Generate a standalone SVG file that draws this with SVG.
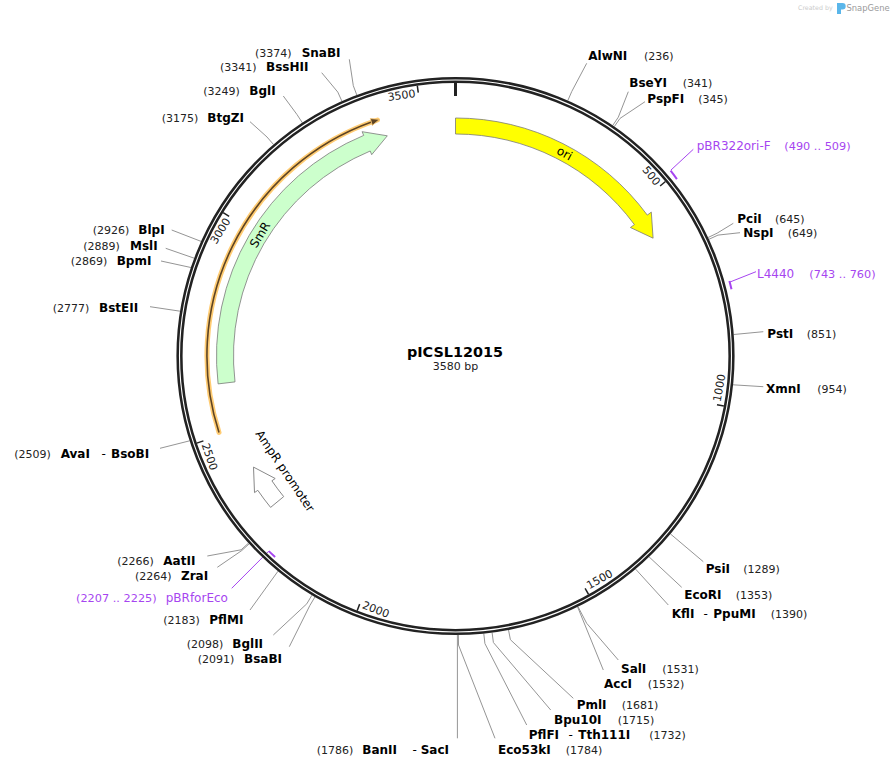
<svg xmlns="http://www.w3.org/2000/svg" width="895" height="768" viewBox="0 0 895 768">
<style>
.en{font-family:"DejaVu Sans",Verdana,sans-serif;font-weight:bold;font-size:12px;fill:#000}
.dash{font-family:"DejaVu Sans",Verdana,sans-serif;font-size:12px;fill:#000}
.pos{font-family:"DejaVu Sans",Verdana,sans-serif;font-size:11px;fill:#222}
.lead{fill:none;stroke:#959595;stroke-width:1}
.plead{fill:none;stroke:#a645f0;stroke-width:1}
.pr{font-family:"DejaVu Sans",Verdana,sans-serif;font-size:12px;fill:#a645f0}
.prpos{font-family:"DejaVu Sans",Verdana,sans-serif;font-size:11.3px;fill:#a645f0}
.tick{font-family:"DejaVu Sans",Verdana,sans-serif;font-size:11px;fill:#222}
.flab{font-family:"DejaVu Sans",Verdana,sans-serif;font-size:12px;fill:#000}
.feat{stroke:#7a7a7a;stroke-width:0.8}
</style>
<rect width="895" height="768" fill="#fff"/>

<g id="watermark">
<text x="798" y="10" font-family="DejaVu Sans, sans-serif" font-size="6.3" fill="#cccccc">Created by</text>
<path d="M837,3 h5.5 a3.2,3.2 0 0 1 0,6.4 h-1.5 v4.6 h-4 z" fill="#5ab6ea"/>
<text x="846.5" y="10.5" font-family="DejaVu Sans, sans-serif" font-size="8.4" fill="#9a9a9a">SnapGene</text>
</g>

<g id="connectors">
<polyline class="lead" points="567.8,100.6 571.8,91.4 586.7,63.3"/>
<polyline class="lead" points="612.7,125.5 618.3,117.2 628.3,91.7"/>
<polyline class="lead" points="614.3,126.6 620,118.4 645,101.7"/>
<polyline class="lead" points="708.1,237.5 717.1,233.2 733.3,223.3"/>
<polyline class="lead" points="708.9,239.3 718,235.1 740,232.7"/>
<polyline class="lead" points="733.7,334.5 763.3,331.7"/>
<polyline class="lead" points="733,384.8 763.3,386.7"/>
<polyline class="lead" points="670.4,533.9 703.3,561.7"/>
<polyline class="lead" points="649.1,556.9 681.7,587.3"/>
<polyline class="lead" points="635.6,569.1 668.3,605"/>
<polyline class="lead" points="578,606.7 586.7,623.3 618.3,660"/>
<polyline class="lead" points="577.6,606.9 603.3,670"/>
<polyline class="lead" points="508.5,629.9 510.4,639.7 573.3,698.3"/>
<polyline class="lead" points="492.1,632.6 493.4,642.5 550.7,710"/>
<polyline class="lead" points="483.8,633.6 484.9,643.5 526.7,725"/>
<polyline class="lead" points="458.4,635 458.5,645 495,738.3"/>
<polyline class="lead" points="457.4,635 457.4,738.3"/>
<polyline class="lead" points="356.8,95 353.3,85.7 349.3,59.3"/>
<polyline class="lead" points="341.9,101.2 337.8,92.1 321.7,72.7"/>
<polyline class="lead" points="302.4,122.8 296.9,114.4 283.3,96"/>
<polyline class="lead" points="273.5,144.5 267,137 250,121.7"/>
<polyline class="lead" points="201.1,241.4 171.7,230"/>
<polyline class="lead" points="194.2,258.2 165.7,248.3"/>
<polyline class="lead" points="190.9,267.5 161,261"/>
<polyline class="lead" points="180.1,311.2 150,306.7"/>
<polyline class="lead" points="189.7,440.8 160,448.3"/>
<polyline class="lead" points="248.5,543.1 241.1,549.8 207.3,556"/>
<polyline class="lead" points="249.2,543.8 241.8,550.5 217.3,567.3"/>
<polyline class="lead" points="278,571.2 250,610"/>
<polyline class="lead" points="311.9,595.2 306.8,603.8 273.3,635"/>
<polyline class="lead" points="314.9,597 309.8,605.6 289.3,646.7"/>
<polyline class="plead" points="671,170 693.3,149.3"/>
<polyline class="plead" points="730,282 756,271.7"/>
<polyline class="plead" points="268.8,551.1 231.7,588.3"/>
</g>

<g id="backbone">
<circle cx="455.5" cy="356" r="276" fill="none" stroke="#222" stroke-width="6.2"/>
<circle cx="455.5" cy="356" r="276" fill="none" stroke="#fff" stroke-width="1.1"/>
<g transform="translate(455.5,356)" stroke="#222" stroke-width="1.5">
<line x1="0" y1="-273" x2="0" y2="-260" stroke-width="3"/>
<line x1="0" y1="-273" x2="0" y2="-266" transform="rotate(50.279)"/>
<line x1="0" y1="-273" x2="0" y2="-266" transform="rotate(100.559)"/>
<line x1="0" y1="-273" x2="0" y2="-266" transform="rotate(150.838)"/>
<line x1="0" y1="-273" x2="0" y2="-266" transform="rotate(201.117)"/>
<line x1="0" y1="-273" x2="0" y2="-266" transform="rotate(251.397)"/>
<line x1="0" y1="-273" x2="0" y2="-266" transform="rotate(301.676)"/>
<line x1="0" y1="-273" x2="0" y2="-266" transform="rotate(351.955)"/>
</g>
<g transform="translate(455.5,356)" class="tick">
<text transform="rotate(50.279)" x="-3" y="-262" text-anchor="end">500</text>
<text transform="rotate(-79.441)" x="3" y="269">1000</text>
<text transform="rotate(-29.162)" x="3" y="269">1500</text>
<text transform="rotate(21.117)" x="3" y="269">2000</text>
<text transform="rotate(71.397)" x="3" y="269">2500</text>
<text transform="rotate(-58.324)" x="-3" y="-262" text-anchor="end">3000</text>
<text transform="rotate(-8.045)" x="-3" y="-262" text-anchor="end">3500</text>
</g>
</g>

<g id="title">
<text x="455" y="357" text-anchor="middle" font-family="DejaVu Sans, Verdana, sans-serif" font-weight="bold" font-size="14.4" fill="#000">pICSL12015</text>
<text x="455.5" y="369.5" text-anchor="middle" font-family="DejaVu Sans, Verdana, sans-serif" font-size="11" fill="#222">3580 bp</text>
</g>

<g id="feature-ori">
<path class="feat" fill="#ffff00" d="M455.5,118 A238,238 0 0 1 647.3,215.1 L651.3,212.1 L653.1,238.2 L630.4,227.5 L634.4,224.6 A222,222 0 0 0 455.5,134 Z"/>
<text class="flab" transform="translate(455.5,356) rotate(28.3)" x="0" y="-230" text-anchor="middle" dominant-baseline="central">ori</text>
</g>

<g id="feature-orange">
<path d="M219,432.4 A248.5,248.5 0 0 1 377.5,120" fill="none" stroke="#ffcc73" stroke-width="5" stroke-linecap="round"/>
<path d="M219,432.4 A248.5,248.5 0 0 1 371.5,122" fill="none" stroke="#5e4424" stroke-width="1.6"/>
<polygon points="379.5,119.4 370.3,118.6 372.3,125.4" fill="#5e4424" stroke="#ffcc73" stroke-width="0.8"/>
</g>

<g id="feature-SmR">
<path class="feat" fill="#ccffcc" d="M218.1,383.9 A239,239 0 0 1 363.7,135.4 L362.1,131.7 L387.3,135.8 L371.7,154.7 L370.2,151 A222,222 0 0 0 235,381.9 Z"/>
<text class="flab" transform="translate(455.5,356) rotate(-58.2)" x="0" y="-230" text-anchor="middle" dominant-baseline="central">SmR</text>
</g>

<g id="feature-AmpR-promoter">
<path fill="#fff" stroke="#888" stroke-width="1" d="M270.6,507.4 A239,239 0 0 1 257.8,490.3 L254.5,492.6 L253.5,467.1 L275.2,478.5 L271.9,480.8 A222,222 0 0 0 283.7,496.6 Z"/>
<text class="flab" transform="translate(285,471) rotate(56)" x="0" y="0" text-anchor="middle" dominant-baseline="central">AmpR promoter</text>
</g>

<g id="primer-pBR322ori-F">
<path d="M670.6,170.7 A284,284 0 0 1 676.9,179.1" fill="none" stroke="#a645f0" stroke-width="2"/>
<text class="pr" x="696.7" y="150">pBR322ori-F</text>
<text class="prpos" x="784.3" y="150">(490 .. 509)</text>
</g>
<g id="primer-L4440">
<path d="M729.4,281.1 A284,284 0 0 1 731.5,289.3" fill="none" stroke="#a645f0" stroke-width="2"/>
<text class="pr" x="757" y="278">L4440</text>
<text class="prpos" x="809.3" y="278">(743 .. 760)</text>
</g>
<g id="primer-pBRforEco">
<path d="M275.1,556.9 A270,270 0 0 1 268.8,551.1" fill="none" stroke="#a645f0" stroke-width="2"/>
<text class="prpos" x="76" y="602">(2207 .. 2225)</text>
<text class="pr" x="165.7" y="602">pBRforEco</text>
</g>

<g id="site-AlwNI"><text class="en" x="588.3" y="60">AlwNI</text><text class="pos" x="644" y="60">(236)</text></g>
<g id="site-BseYI"><text class="en" x="629.3" y="87">BseYI</text><text class="pos" x="682.7" y="87">(341)</text></g>
<g id="site-PspFI"><text class="en" x="647.3" y="102.5">PspFI</text><text class="pos" x="698.3" y="102.5">(345)</text></g>
<g id="site-PciI"><text class="en" x="737.3" y="222.5">PciI</text><text class="pos" x="775" y="222.5">(645)</text></g>
<g id="site-NspI"><text class="en" x="743.3" y="237">NspI</text><text class="pos" x="787.7" y="237">(649)</text></g>
<g id="site-PstI"><text class="en" x="767.3" y="337.7">PstI</text><text class="pos" x="806.7" y="337.7">(851)</text></g>
<g id="site-XmnI"><text class="en" x="766" y="392.7">XmnI</text><text class="pos" x="817.3" y="392.7">(954)</text></g>
<g id="site-PsiI"><text class="en" x="705.7" y="572.7">PsiI</text><text class="pos" x="743.3" y="572.7">(1289)</text></g>
<g id="site-EcoRI"><text class="en" x="684.3" y="599.4">EcoRI</text><text class="pos" x="735.7" y="599.4">(1353)</text></g>
<g id="site-KflI-PpuMI"><text class="en" x="671.7" y="617.7">KflI</text><text class="dash" x="703.5" y="617.7">-</text><text class="en" x="713.3" y="617.7">PpuMI</text><text class="pos" x="770.7" y="617.7">(1390)</text></g>
<g id="site-SalI"><text class="en" x="621" y="672.7">SalI</text><text class="pos" x="662.3" y="672.7">(1531)</text></g>
<g id="site-AccI"><text class="en" x="604" y="687.7">AccI</text><text class="pos" x="647.7" y="687.7">(1532)</text></g>
<g id="site-PmlI"><text class="en" x="576.7" y="709.4">PmlI</text><text class="pos" x="621.7" y="709.4">(1681)</text></g>
<g id="site-Bpu10I"><text class="en" x="554" y="724.4">Bpu10I</text><text class="pos" x="617.7" y="724.4">(1715)</text></g>
<g id="site-PflFI-Tth111I"><text class="en" x="528.7" y="739.4">PflFI</text><text class="dash" x="568.5" y="739.4">-</text><text class="en" x="578.3" y="739.4">Tth111I</text><text class="pos" x="649.3" y="739.4">(1732)</text></g>
<g id="site-Eco53kI"><text class="en" x="498" y="754.4">Eco53kI</text><text class="pos" x="565.7" y="754.4">(1784)</text></g>
<g id="site-BanII-SacI"><text class="pos" x="316.7" y="754.4">(1786)</text><text class="en" x="362.3" y="754.4">BanII</text><text class="dash" x="412.5" y="754.4">-</text><text class="en" x="420.7" y="754.4">SacI</text></g>
<g id="site-SnaBI"><text class="pos" x="255" y="56.7">(3374)</text><text class="en" x="301.7" y="56.7">SnaBI</text></g>
<g id="site-BssHII"><text class="pos" x="220" y="71">(3341)</text><text class="en" x="266" y="71">BssHII</text></g>
<g id="site-BglI"><text class="pos" x="203.3" y="95.2">(3249)</text><text class="en" x="249.3" y="95.2">BglI</text></g>
<g id="site-BtgZI"><text class="pos" x="161.7" y="121.5">(3175)</text><text class="en" x="207.3" y="121.5">BtgZI</text></g>
<g id="site-BlpI"><text class="pos" x="92.7" y="233.5">(2926)</text><text class="en" x="138.3" y="233.5">BlpI</text></g>
<g id="site-MslI"><text class="pos" x="83.3" y="250">(2889)</text><text class="en" x="130" y="250">MslI</text></g>
<g id="site-BpmI"><text class="pos" x="70.7" y="265">(2869)</text><text class="en" x="116.7" y="265">BpmI</text></g>
<g id="site-BstEII"><text class="pos" x="52.7" y="311.7">(2777)</text><text class="en" x="99" y="311.7">BstEII</text></g>
<g id="site-AvaI-BsoBI"><text class="pos" x="14.3" y="457.7">(2509)</text><text class="en" x="60.7" y="457.7">AvaI</text><text class="dash" x="101.5" y="457.7">-</text><text class="en" x="111" y="457.7">BsoBI</text></g>
<g id="site-AatII"><text class="pos" x="117.3" y="565.4">(2266)</text><text class="en" x="163.3" y="565.4">AatII</text></g>
<g id="site-ZraI"><text class="pos" x="135" y="580">(2264)</text><text class="en" x="181" y="580">ZraI</text></g>
<g id="site-PflMI"><text class="pos" x="163.3" y="624.4">(2183)</text><text class="en" x="209.3" y="624.4">PflMI</text></g>
<g id="site-BglII"><text class="pos" x="186.7" y="648">(2098)</text><text class="en" x="232.3" y="648">BglII</text></g>
<g id="site-BsaBI"><text class="pos" x="197.7" y="662.7">(2091)</text><text class="en" x="244" y="662.7">BsaBI</text></g>
</svg>
